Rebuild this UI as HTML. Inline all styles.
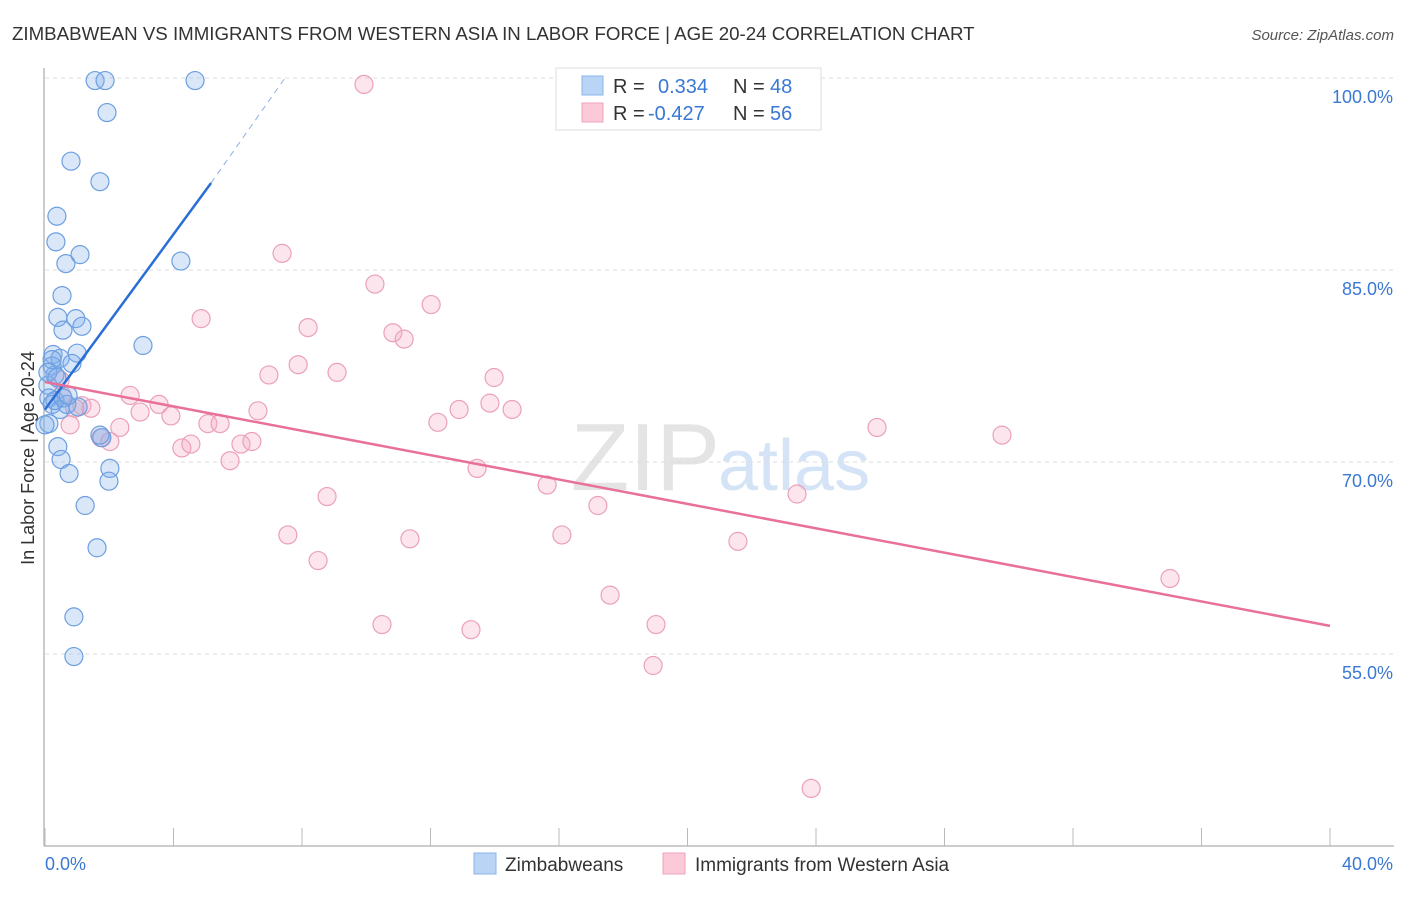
<!DOCTYPE html>
<html><head><meta charset="utf-8"><style>
body{margin:0;background:#fff;width:1406px;height:892px;overflow:hidden;font-family:"Liberation Sans",sans-serif;}
svg text{font-family:"Liberation Sans",sans-serif;}
</style></head><body>
<svg id="chart" width="1406" height="892">
<text x="12" y="40" font-size="18.7" fill="#333">ZIMBABWEAN VS IMMIGRANTS FROM WESTERN ASIA IN LABOR FORCE | AGE 20-24 CORRELATION CHART</text>
<text x="1394" y="40" font-size="15" fill="#555" font-style="italic" text-anchor="end">Source: ZipAtlas.com</text>
<text x="720" y="490" font-size="96" fill="#e4e4e4" font-family="Liberation Serif" text-anchor="end">ZIP</text>
<text x="718" y="490" font-size="72" fill="#d4e4f6">atlas</text>
<g id="grid"></g>
<g id="axes"></g>
<g id="pts"></g>
<g id="trend"></g>
<text transform="translate(34,458) rotate(-90)" font-size="18" fill="#333" text-anchor="middle">In Labor Force | Age 20-24</text>
<g>
<rect x="556" y="68" width="265" height="62" fill="#fff" stroke="#ddd"/>
<rect x="582" y="76" width="21" height="19" fill="#b9d4f5" stroke="#8ab4e8"/>
<rect x="582" y="103" width="21" height="19" fill="#fbc9d8" stroke="#efa3bd"/>
<text x="613" y="93" font-size="20" fill="#333">R = </text><text x="658" y="93" font-size="20" fill="#3a78d4">0.334</text>
<text x="733" y="93" font-size="20" fill="#333">N = </text><text x="770" y="93" font-size="20" fill="#3a78d4">48</text>
<text x="613" y="120" font-size="20" fill="#333">R = </text><text x="648" y="120" font-size="20" fill="#3a78d4">-0.427</text>
<text x="733" y="120" font-size="20" fill="#333">N = </text><text x="770" y="120" font-size="20" fill="#3a78d4">56</text>
</g>
<g>
<rect x="474" y="853" width="22" height="21" fill="#b9d4f5" stroke="#8ab4e8"/>
<text x="505" y="871" font-size="19" fill="#333">Zimbabweans</text>
<rect x="663" y="853" width="22" height="21" fill="#fbc9d8" stroke="#efa3bd"/>
<text x="695" y="871" font-size="19" fill="#333">Immigrants from Western Asia</text>
</g>
</svg>
<script>
const blueX=[1.56,1.87,4.67,1.93,0.81,1.71,0.37,0.34,1.09,0.65,4.23,0.53,0.40,0.96,1.15,0.56,3.05,0.25,0.47,1.00,0.84,0.22,0.31,0.09,0.12,0.22,0.47,0.68,1.03,0.12,1.77,0.40,0.50,0.75,2.02,1.99,1.25,1.62,0.90,0.90,0.22,0.31,0.56,0.09,0.0,0.37,0.72,1.71];
const blueY=[99.8,99.8,99.8,97.3,93.5,91.9,89.2,87.2,86.2,85.5,85.7,83.0,81.3,81.2,80.6,80.3,79.1,78.4,78.1,78.5,77.7,77.5,76.8,76.0,75.0,74.5,74.1,74.5,74.3,73.0,71.9,71.2,70.2,69.1,69.5,68.5,66.6,63.3,57.9,54.8,78.0,74.8,75.0,77.0,72.9,76.6,75.2,72.1];
const pinkX=[9.93,7.38,10.27,12.02,4.86,8.19,10.83,11.18,7.88,9.09,6.97,13.98,2.65,0.53,3.55,1.15,1.43,0.93,2.96,3.92,6.63,14.54,12.89,13.85,2.33,5.07,5.45,12.23,25.9,29.79,1.74,2.02,4.26,4.54,6.10,6.44,5.76,13.45,15.63,17.21,23.41,8.78,7.56,11.36,16.09,21.57,8.50,35.02,17.59,10.49,19.02,13.26,18.93,23.85,0.78,0.47];
const pinkY=[99.5,86.3,83.9,82.3,81.2,80.5,80.1,79.6,77.6,77.0,76.8,76.6,75.2,75.2,74.5,74.4,74.2,74.2,73.9,73.6,74.0,74.1,74.1,74.6,72.7,73.0,73.0,73.1,72.7,72.1,71.9,71.6,71.1,71.4,71.4,71.6,70.1,69.5,68.2,66.6,67.5,67.3,64.3,64.0,64.3,63.8,62.3,60.9,59.6,57.3,57.3,56.9,54.1,44.5,72.9,76.4];
const yTicks=[100,85,70,55];
const yTickLabels=["100.0%","85.0%","70.0%","55.0%"];
const xTicks=[0,4,8,12,16,20,24,28,32,36,40];
const blueTrend=[[0,74.1],[5.17,91.8]];
const blueDash=[[5.17,91.8],[7.47,100]];
const pinkTrend=[[0,76.25],[40,57.2]];
const NS='http://www.w3.org/2000/svg';
const sx=v=>45+v/40*1285;
const sy=v=>78+(100-v)/15*192;
function mk(t,a,p){const e=document.createElementNS(NS,t);for(const k in a)e.setAttribute(k,a[k]);p.appendChild(e);return e;}
const grid=document.getElementById('grid'),axes=document.getElementById('axes');
yTicks.forEach((v,i)=>{
 const l=mk('line',{x1:45,x2:1394,y1:sy(v),y2:sy(v),stroke:'#ddd','stroke-dasharray':'4,4'},grid);
 
 
 const t=mk('text',{x:1393,y:sy(v)+25,'font-size':18,fill:'#3a78d4','text-anchor':'end'},axes);
 t.textContent=yTickLabels[i];
 
 
});
const ax=mk('line',{x1:44,x2:44,y1:68,y2:846,stroke:'#bbb','stroke-width':1.5},axes);


const bx=mk('line',{x1:44,x2:1394,y1:846,y2:846,stroke:'#bbb','stroke-width':1.5},axes);


xTicks.forEach(v=>{const l=mk('line',{x1:sx(v),x2:sx(v),y1:828,y2:846,stroke:'#bbb'},axes);
 
 });
const x0=mk('text',{x:45,y:870,'font-size':18,fill:'#3a78d4'},axes);x0.textContent='0.0%';


const x1=mk('text',{x:1393,y:870,'font-size':18,fill:'#3a78d4','text-anchor':'end'},axes);x1.textContent='40.0%';


const pts=document.getElementById('pts');
pinkX.forEach((x,i)=>{const c=mk('circle',{cx:sx(x),cy:sy(pinkY[i]),r:9,fill:'rgba(245,170,195,0.3)',stroke:'#eba0ba','stroke-width':1.2},pts);
 
 });
blueX.forEach((x,i)=>{const c=mk('circle',{cx:sx(x),cy:sy(blueY[i]),r:9,fill:'rgba(130,175,235,0.3)',stroke:'#6c9fe0','stroke-width':1.2},pts);
 
 });
const tr=document.getElementById('trend');
const b=mk('line',{x1:sx(blueTrend[0][0]),y1:sy(blueTrend[0][1]),x2:sx(blueTrend[1][0]),y2:sy(blueTrend[1][1]),stroke:'#2a6fd6','stroke-width':2.5},tr);


const bd=mk('line',{x1:sx(blueDash[0][0]),y1:sy(blueDash[0][1]),x2:sx(blueDash[1][0]),y2:sy(blueDash[1][1]),stroke:'#8ab0e6','stroke-width':1,'stroke-dasharray':'6,5'},tr);


const p=mk('line',{x1:sx(pinkTrend[0][0]),y1:sy(pinkTrend[0][1]),x2:sx(pinkTrend[1][0]),y2:sy(pinkTrend[1][1]),stroke:'#e8709a','stroke-width':2.5},tr);


</script>
</body></html>
